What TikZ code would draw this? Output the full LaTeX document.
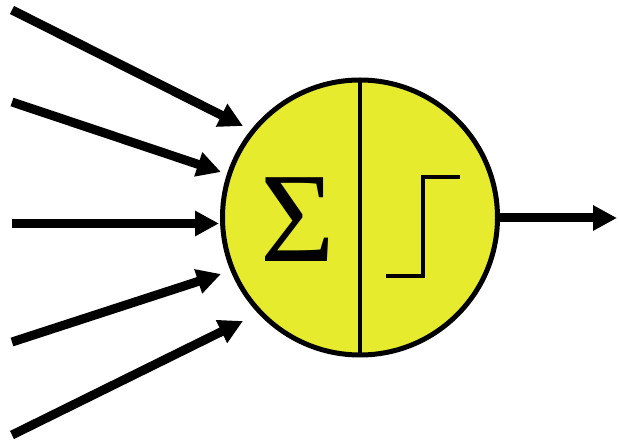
\documentclass[tikz,border=0pt]{standalone}
\usepackage{fontspec}
\setmainfont{Liberation Serif}
\usetikzlibrary{arrows.meta}
\definecolor{neuron}{RGB}{230,235,46}
\begin{document}
\begin{tikzpicture}[x=1pt,y=-1pt,
  inarrow/.style={line width=9pt,-{Triangle[length=24pt,width=24pt]}},
  body/.style={circle,draw,line width=5pt,fill=neuron,minimum size=275pt,inner sep=0pt}]
\useasboundingbox (0,0) rectangle (619,443);
\node[body] (n) at (360,217.5) {};
\draw[line width=4pt,shorten <=1pt,shorten >=1pt] (n.north) -- (n.south);
\node[inner sep=0pt,font=\fontsize{128}{128}\selectfont] (sig) at (298,219.5) {Σ};
\coordinate (s1) at (386,276);
\coordinate (s2) at (423,276);
\coordinate (s3) at (423,177);
\coordinate (s4) at (460,177);
\draw[line width=3.5pt] (s1) -- (s2) -- (s3) -- (s4);
\coordinate (a1) at (12,10);   \coordinate (b1) at (243,126);
\coordinate (a2) at (12,102);  \coordinate (b2) at (221,172);
\coordinate (a3) at (12,223.5);  \coordinate (b3) at (219,223.5);
\coordinate (a4) at (12,342);  \coordinate (b4) at (221,274);
\coordinate (a5) at (12,435);  \coordinate (b5) at (243,321);
\coordinate (out) at (617,218);
\draw[inarrow] (a1) -- (b1);
\draw[inarrow] (a2) -- (b2);
\draw[inarrow] (a3) -- (b3);
\draw[inarrow] (a4) -- (b4);
\draw[inarrow] (a5) -- (b5);
\draw[inarrow] (n.east |- out) -- (out);
\end{tikzpicture}
\end{document}
